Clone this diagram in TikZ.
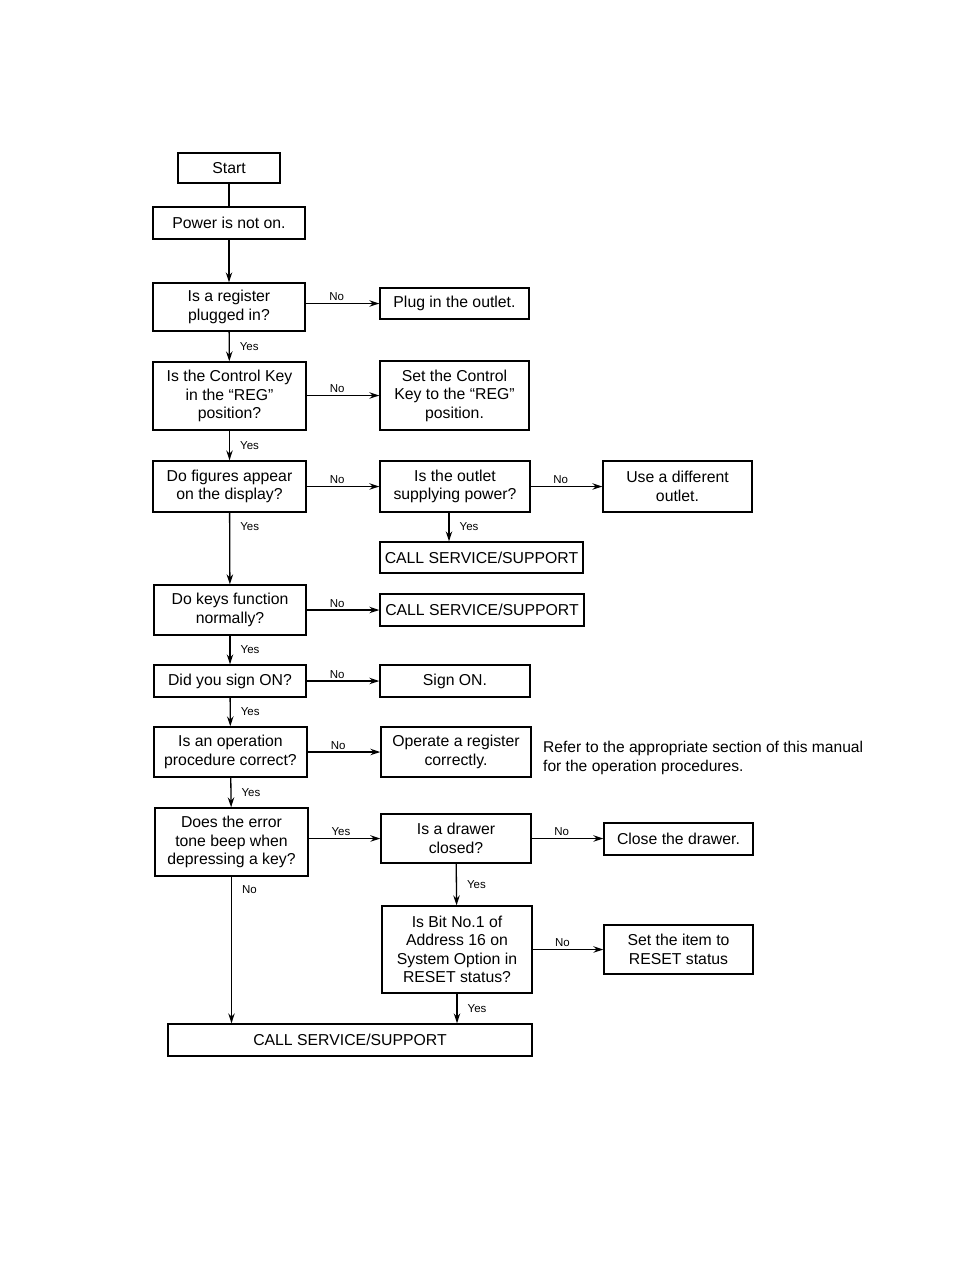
\documentclass[tikz,border=0pt]{standalone}
\usepackage{fontspec}
\setmainfont{Liberation Sans}
\usetikzlibrary{arrows.meta,positioning}

\begin{document}
\begin{tikzpicture}[x=1pt, y=-1pt, >={Stealth[length=10pt,width=6.5pt]},
    box/.style 2 args={draw, line width=1.4pt, minimum width=#1pt,
                minimum height=#2pt, align=center, inner sep=2pt,
                font=\fontsize{15.8}{18.5}\selectfont},
    arr/.style={->, line width=1.3pt},
    lbl/.style={font=\fontsize{11.5}{13}\selectfont, inner sep=2pt},
    ylbl/.style={lbl, right, xshift=8pt}]

  \useasboundingbox (0,0) rectangle (954,1269);

  %% main column
  \node[box={102}{30}]  (start)   at (229,168)   {Start};
  \node[box={152}{32}]  (power)   at (229,223)   {Power is not on.};
  \node[box={152}{48}]  (plugged) at (229,307)   {Is a register\\plugged in?};
  \node[box={153}{68}]  (ctrl)    at (229.5,396) {Is the Control Key\\in the ``REG''\\position?};
  \node[box={153}{51}]  (figures) at (229.5,486.5) {Do figures appear\\on the display?};
  \node[box={152}{50}]  (keys)    at (230,610)   {Do keys function\\normally?};
  \node[box={152}{32}]  (sign)    at (230,681)   {Did you sign ON?};
  \node[box={153}{50}]  (oper)    at (230.5,752) {Is an operation\\procedure correct?};
  \node[box={153}{68}]  (tone)    at (231.5,842) {Does the error\\tone beep when\\depressing a key?};

  %% second column
  \node[box={149}{31}]  (plug)    at (454.5,303.5) {Plug in the outlet.};
  \node[box={149}{69}]  (setkey)  at (454.5,395.5) {Set the Control\\Key to the ``REG''\\position.};
  \node[box={150}{51}]  (outlet)  at (455,486.5) {Is the outlet\\supplying power?};
  \node[box={203}{31}]  (callA)   at (481.5,557.5) {CALL SERVICE/SUPPORT};
  \node[box={204}{32}]  (callB)   at (482,610)   {CALL SERVICE/SUPPORT};
  \node[box={150}{32}]  (signon)  at (455,681)   {Sign ON.};
  \node[box={150}{50}]  (operate) at (456,752)   {Operate a register\\correctly.};
  \node[box={150}{49}]  (drawer)  at (456,838.5) {Is a drawer\\closed?};
  \node[box={150}{87}]  (bit)     at (457,949.5) {Is Bit No.1 of\\Address 16 on\\System Option in\\RESET status?};

  %% third column
  \node[box={149}{51}]  (differ)  at (677.5,486.5) {Use a different\\outlet.};
  \node[box={149}{32}]  (close)   at (678.5,839) {Close the drawer.};
  \node[box={149}{49}]  (setitem) at (678.5,949.5) {Set the item to\\RESET status};

  \node[box={364}{32}]  (callend) at (350,1040)  {CALL SERVICE/SUPPORT};

  \node[anchor=west, align=left, inner sep=0pt,
        font=\fontsize{15.6}{19}\selectfont] (refer) at (543,758)
    {Refer to the appropriate section of this manual\\for the operation procedures.};

  %% vertical flow
  \draw[line width=1.3pt] (start) -- (power);
  \draw[arr] (power) -- (plugged);
  \draw[arr] (plugged) -- node[ylbl] {Yes} (ctrl);
  \draw[arr] (ctrl) -- node[ylbl] {Yes} (figures);
  \draw[arr] (figures) -- node[ylbl, pos=0.2] {Yes} (keys);
  \draw[arr] (keys) -- node[ylbl] {Yes} (sign);
  \draw[arr] (sign) -- node[ylbl] {Yes} (oper);
  \draw[arr] (oper) -- node[ylbl] {Yes} (tone);
  \draw[arr] (tone.south) -- node[ylbl, pos=0.09] {No} (tone.south |- callend.north);
  \draw[arr] ([xshift=-6pt]outlet.south) -- node[ylbl] {Yes}
    ([xshift=-6pt]outlet.south |- callA.north);
  \draw[arr] (drawer) -- node[ylbl] {Yes} (bit);
  \draw[arr] (bit.south) -- node[ylbl] {Yes} (bit.south |- callend.north);

  %% branches to the right
  \draw[arr] (plugged.east |- plug) -- node[lbl, above, pos=0.42] {No} (plug);
  \draw[arr] (ctrl.east |- setkey) -- node[lbl, above, pos=0.42] {No} (setkey);
  \draw[arr] (figures) -- node[lbl, above, pos=0.42] {No} (outlet);
  \draw[arr] (outlet) -- node[lbl, above, pos=0.42] {No} (differ);
  \draw[arr] (keys) -- node[lbl, above, pos=0.42] {No} (callB.west |- keys);
  \draw[arr] (sign) -- node[lbl, above, pos=0.42] {No} (signon);
  \draw[arr] (oper) -- node[lbl, above, pos=0.42] {No} (operate);
  \draw[arr] (tone.east |- drawer) -- node[lbl, above, pos=0.45] {Yes} (drawer);
  \draw[arr] (drawer) -- node[lbl, above, pos=0.42] {No} (close.west |- drawer);
  \draw[arr] (bit) -- node[lbl, above, pos=0.42] {No} (setitem);

\end{tikzpicture}
\end{document}
